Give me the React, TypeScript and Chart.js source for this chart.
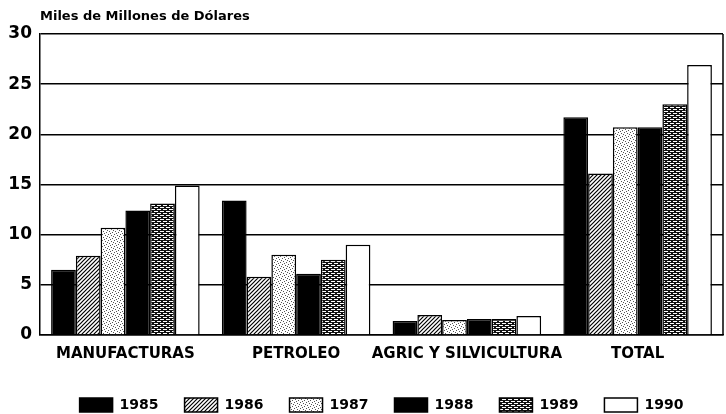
import React, { useEffect, useRef } from "react";
import { Chart, registerables } from "chart.js";

Chart.register(...registerables);

const categories = ["MANUFACTURAS", "PETROLEO", "AGRIC Y SILVICULTURA", "TOTAL"];
const years = ["1985", "1986", "1987", "1988", "1989", "1990"];
const v1985 = [6.5, 13.4, 1.4, 21.7];
const v1986 = [7.9, 5.8, 2.0, 16.1];
const v1987 = [10.7, 8.0, 1.5, 20.7];
const v1988 = [12.4, 6.1, 1.6, 20.7];
const v1989 = [13.1, 7.5, 1.6, 23.0];
const v1990 = [14.9, 9.0, 1.9, 26.9];
const seriesValues = [v1985, v1986, v1987, v1988, v1989, v1990];
const yTickMin = 0;
const yTickMax = 30;
const yTickStep = 5;
const titleText = "Miles de Millones de Dólares";

const FONT = "'DejaVu Sans', sans-serif";

function makePattern(kind: string): CanvasPattern | string {
  const c = document.createElement("canvas");
  const g = c.getContext("2d")!;
  if (kind === "solid") return "#000";
  if (kind === "white") return "#fff";
  if (kind === "hatch") {
    c.width = 4; c.height = 4;
    g.fillStyle = "#fff"; g.fillRect(0, 0, 4, 4);
    g.strokeStyle = "#000"; g.lineWidth = 1.2;
    g.beginPath();
    g.moveTo(-1, 5); g.lineTo(5, -1);
    g.moveTo(-1, 1); g.lineTo(1, -1);
    g.moveTo(3, 5); g.lineTo(5, 3);
    g.stroke();
  } else if (kind === "stipple") {
    c.width = 6; c.height = 6;
    g.fillStyle = "#fff"; g.fillRect(0, 0, 6, 6);
    g.fillStyle = "#555";
    const dots = [[0, 0], [3, 1], [1, 3], [4, 4], [5, 2], [2, 5]];
    dots.forEach(([x, y]) => g.fillRect(x, y, 1, 1));
  } else if (kind === "brick") {
    c.width = 6; c.height = 4;
    g.fillStyle = "#111"; g.fillRect(0, 0, 6, 4);
    g.fillStyle = "#fff";
    g.fillRect(1, 1, 4, 1);
    g.fillRect(4, 3, 4, 1);
    g.fillRect(0, 3, 2, 1);
  }
  return g.createPattern(c, "repeat")!;
}

export default function App() {
  const ref = useRef<HTMLCanvasElement | null>(null);
  useEffect(() => {
    const kinds = ["solid", "hatch", "stipple", "solid", "brick", "white"];
    const fills = kinds.map(makePattern);
    const titlePlugin = {
      id: "leftTitle",
      afterLayout(chart: any) {
        const lg = chart.legend;
        if (lg) {
          const h = lg.bottom - lg.top;
          lg.top = 372; lg.bottom = 372 + h;
          lg.left += 20; lg.right += 20;
        }
      },
      afterDraw(chart: any) {
        const { ctx, chartArea } = chart;
        ctx.save();
        ctx.font = `bold 13px ${FONT}`;
        ctx.fillStyle = "#000";
        ctx.textBaseline = "middle";
        ctx.textAlign = "left";
        ctx.fillText(titleText, chartArea.left, 17);
        ctx.strokeStyle = "#000";
        ctx.lineWidth = 1.5;
        ctx.beginPath();
        ctx.moveTo(chartArea.right, chartArea.top);
        ctx.lineTo(chartArea.right, chartArea.bottom);
        ctx.stroke();
        ctx.restore();
      },
    };
    const chart = new Chart(ref.current!, {
      type: "bar",
      data: {
        labels: categories,
        datasets: years.map((y, i) => ({
          label: y,
          data: seriesValues[i],
          backgroundColor: fills[i] as any,
          borderColor: "#000",
          borderWidth: 1.5,
          categoryPercentage: 0.87,
          barPercentage: 1.0,
        })),
      },
      options: {
        animation: false,
        responsive: false,
        devicePixelRatio: 1,
        layout: { padding: { top: 34, right: 3, bottom: 1, left: 0 } },
        plugins: {
          title: { display: false },
          tooltip: { enabled: false },
          legend: {
            display: true,
            position: "bottom",
            maxHeight: 52,
            labels: {
              boxWidth: 33,
              boxHeight: 14,
              padding: 26,
              color: "#000",
              font: { family: FONT, size: 14, weight: "bold" },
            },
          },
        },
        scales: {
          x: {
            grid: { display: false, drawTicks: false },
            border: { display: true, color: "#000", width: 1.5 },
            ticks: {
              color: "#000",
              padding: 10,
              maxRotation: 0,
              autoSkip: false,
              font: { family: FONT, size: 15, weight: "bold" },
            },
            afterFit: (s: any) => { s.height = 28; },
          },
          y: {
            min: yTickMin,
            max: yTickMax,
            ticks: {
              stepSize: yTickStep,
              color: "#000",
              padding: 8,
              font: { family: FONT, size: 17, weight: "bold" },
            },
            grid: { color: "#000", lineWidth: 1.5, drawTicks: false },
            border: { display: true, color: "#000", width: 1.5 },
            afterFit: (s: any) => { s.width = 40; },
          },
        },
      },
      plugins: [titlePlugin],
    });
    return () => chart.destroy();
  }, []);
  return (
    <div style={{ position: "fixed", left: 0, top: 0, width: 726, height: 414, background: "#fff" }}>
      <canvas ref={ref} width={726} height={414} style={{ display: "block", width: 726, height: 414 }} />
    </div>
  );
}
